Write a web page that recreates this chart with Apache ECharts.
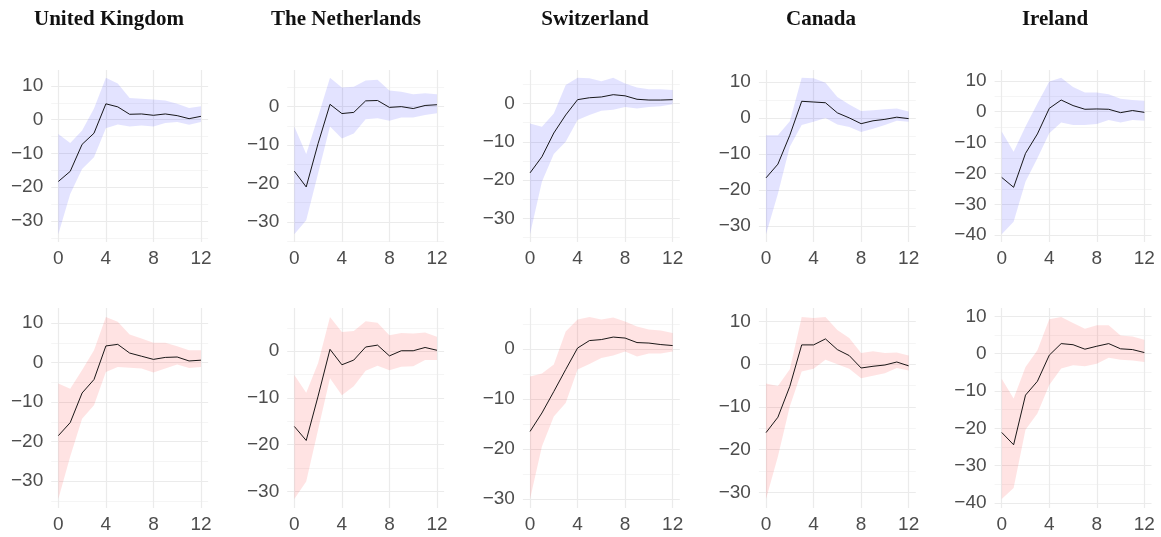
<!DOCTYPE html>
<html><head><meta charset="utf-8">
<script src="https://cdn.jsdelivr.net/npm/echarts@6/dist/echarts.min.js"></script>
<style>html,body{margin:0;padding:0;background:#fff}#c{width:1161px;height:537px}</style>
</head><body><div id="c"></div><script>
const countries = ['United Kingdom', 'The Netherlands', 'Switzerland', 'Canada', 'Ireland'];
const horizon = [0,1,2,3,4,5,6,7,8,9,10,11,12];
const xTicks = [0, 4, 8, 12];

// Top row (blue)
const ukTopMid  = [-18.3,-15.3,-7.3,-4.0,4.7,3.8,1.6,1.7,1.3,1.7,1.2,0.3,1.0];
const ukTopHigh = [-4.2,-6.9,-3.2,3.3,12.4,10.7,6.4,6.2,6.0,5.7,4.7,3.5,4.0];
const ukTopLow  = [-33.9,-22.0,-14.6,-11.1,-2.5,-1.4,-2.0,-1.7,-2.0,-1.0,-0.7,-1.5,-0.7];

const nlTopMid  = [-16.8,-20.9,-9.6,0.6,-1.8,-1.5,1.5,1.6,-0.2,0.0,-0.5,0.3,0.5];
const nlTopHigh = [-5.2,-12.3,-2.6,7.5,5.0,5.2,6.8,7.0,4.2,3.9,3.2,3.5,3.2];
const nlTopLow  = [-33.2,-29.6,-17.4,-5.2,-8.3,-7.0,-3.3,-3.0,-3.7,-2.8,-2.8,-2.2,-1.7];

const chTopMid  = [-18.1,-13.9,-7.7,-3.0,1.0,1.5,1.7,2.3,2.0,1.1,0.9,0.9,1.0];
const chTopHigh = [-5.2,-6.1,-2.6,4.8,6.7,6.6,5.8,6.7,5.2,4.2,3.7,3.7,3.5];
const chTopLow  = [-34.1,-20.4,-13.2,-10.0,-4.3,-3.0,-1.9,-1.6,-0.9,-1.3,-0.9,-0.7,-0.2];

const caTopMid  = [-16.6,-12.8,-4.8,4.6,4.4,4.2,1.4,0.0,-1.6,-0.8,-0.4,0.2,-0.2];
const caTopHigh = [-4.8,-4.8,-0.9,11.1,11.0,9.7,5.8,3.7,1.9,2.1,2.4,2.6,1.8];
const caTopLow  = [-32.2,-21.0,-8.0,-2.0,-1.1,0.0,-1.8,-2.5,-3.9,-3.0,-2.0,-0.8,-1.1];

const ieTopMid  = [-21.3,-24.5,-13.5,-7.2,1.1,3.8,2.0,0.8,0.9,0.8,-0.3,0.4,-0.2];
const ieTopHigh = [-6.4,-13.0,-4.8,2.7,9.8,11.0,8.0,6.2,6.2,5.7,4.2,3.8,3.6];
const ieTopLow  = [-39.7,-35.7,-22.7,-15.1,-7.0,-3.5,-4.3,-4.3,-4.0,-2.7,-3.5,-2.7,-2.9];

// Bottom row (red)
const ukBotMid  = [-18.5,-15.2,-7.7,-4.3,4.2,4.6,2.4,1.6,0.8,1.3,1.4,0.4,0.6];
const ukBotHigh = [-5.3,-6.6,-1.9,3.1,11.5,10.3,7.1,6.1,5.0,5.0,4.1,3.1,3.1];
const ukBotLow  = [-34.5,-23.8,-14.2,-10.8,-2.4,-1.1,-1.3,-1.5,-2.5,-1.5,-0.5,-1.4,-1.1];

const nlBotMid  = [-16.1,-19.1,-9.6,0.4,-2.9,-1.9,0.9,1.3,-1.0,0.1,0.1,0.8,0.2];
const nlBotHigh = [-5.1,-8.9,-2.5,7.3,4.1,4.3,6.4,6.1,3.4,3.9,3.8,4.0,3.1];
const nlBotLow  = [-31.6,-27.9,-16.8,-5.8,-9.4,-7.5,-4.2,-3.1,-4.1,-3.3,-3.2,-1.9,-1.9];

const chBotMid  = [-16.5,-12.8,-8.5,-4.1,0.2,1.7,1.9,2.4,2.2,1.3,1.2,0.9,0.7];
const chBotHigh = [-5.5,-4.9,-3.1,3.5,5.9,6.4,5.9,6.3,5.5,4.5,3.9,3.7,3.2];
const chBotLow  = [-30.0,-19.5,-13.5,-10.8,-4.1,-3.0,-1.8,-1.3,-0.5,-1.5,-0.9,-0.9,-0.5];

const caBotMid  = [-16.0,-12.4,-5.2,4.5,4.5,5.9,3.4,2.0,-0.9,-0.5,-0.2,0.5,-0.4];
const caBotHigh = [-4.5,-5.1,-1.2,11.0,10.8,11.0,8.0,6.1,2.6,3.0,2.6,2.7,2.0];
const caBotLow  = [-31.5,-21.6,-9.9,-1.7,-1.1,1.0,0.0,-1.1,-3.3,-2.7,-2.1,-0.9,-1.5];

const ieBotMid  = [-21.1,-24.4,-11.1,-7.4,-0.4,2.7,2.4,1.2,2.0,2.7,1.3,1.1,0.3];
const ieBotHigh = [-6.7,-12.0,-3.6,0.9,9.2,9.8,8.2,6.7,7.6,7.6,4.9,4.6,3.7];
const ieBotLow  = [-38.9,-36.0,-20.4,-16.0,-8.4,-4.0,-3.1,-3.4,-2.7,-1.1,-1.6,-1.8,-2.2];

const panels = [
  {row:0,col:0,mid:ukTopMid,low:ukTopLow,high:ukTopHigh},
  {row:0,col:1,mid:nlTopMid,low:nlTopLow,high:nlTopHigh},
  {row:0,col:2,mid:chTopMid,low:chTopLow,high:chTopHigh},
  {row:0,col:3,mid:caTopMid,low:caTopLow,high:caTopHigh},
  {row:0,col:4,mid:ieTopMid,low:ieTopLow,high:ieTopHigh},
  {row:1,col:0,mid:ukBotMid,low:ukBotLow,high:ukBotHigh},
  {row:1,col:1,mid:nlBotMid,low:nlBotLow,high:nlBotHigh},
  {row:1,col:2,mid:chBotMid,low:chBotLow,high:chBotHigh},
  {row:1,col:3,mid:caBotMid,low:caBotLow,high:caBotHigh},
  {row:1,col:4,mid:ieBotMid,low:ieBotLow,high:ieBotHigh}
];

const colLeft = [51.2, 287.2, 522.9, 758.9, 994.6];
const colWidth = 156.9;
const rowTop = [70, 308];
const rowHeight = [172, 200];
const bandColor = ['rgba(0,0,255,0.11)', 'rgba(255,0,0,0.11)'];
const titleX = [109, 346, 595, 821, 1055];
const labelFont = {fontFamily: 'Liberation Sans', fontSize: 19, color: '#4D4D4D'};
const fmt = v => (v < 0 ? '\u2212' + Math.abs(v) : String(v));

const grid = [], xAxis = [], yAxis = [], series = [];
panels.forEach((p, i) => {
  grid.push({left: colLeft[p.col], top: rowTop[p.row], width: colWidth, height: rowHeight[p.row]});
  const lo = Math.min(...p.low), hi = Math.max(...p.high);
  const pad = 0.05 * (hi - lo);
  const ymin = lo - pad, ymax = hi + pad;
  const major = [], minor = [];
  for (let v = Math.ceil(ymin / 5) * 5; v <= ymax; v += 5) {
    (Math.abs(v % 10) === 0 ? major : minor).push(v);
  }
  xAxis.push({
    type: 'value', gridIndex: i, min: -0.6, max: 12.6,
    axisLine: {show: false},
    axisTick: {show: false, customValues: xTicks},
    axisLabel: Object.assign({customValues: xTicks, margin: 7, formatter: fmt}, labelFont),
    splitLine: {show: true, lineStyle: {color: '#EBEBEB', width: 1.2}}
  });
  yAxis.push({
    type: 'value', gridIndex: i, min: ymin, max: ymax, position: 'left',
    axisLine: {show: false},
    axisTick: {show: false, customValues: major},
    axisLabel: Object.assign({customValues: major, margin: 8, formatter: fmt}, labelFont),
    splitLine: {show: true, lineStyle: {color: '#EBEBEB', width: 1.2}}
  });
  yAxis.push({
    type: 'value', gridIndex: i, min: ymin, max: ymax, position: 'left',
    axisLine: {show: false},
    axisTick: {show: false, customValues: minor},
    axisLabel: {show: false, customValues: minor},
    splitLine: {show: true, lineStyle: {color: '#F2F2F2', width: 0.8}}
  });
  const fill = bandColor[p.row];
  series.push({
    type: 'custom', xAxisIndex: i, yAxisIndex: 2 * i, silent: true,
    encode: {x: 0, y: [1, 2]},
    data: horizon.map((h, k) => [h, p.low[k], p.high[k]]),
    renderItem: (params, api) => {
      if (params.dataIndexInside !== 0) return null;
      const n = params.dataInsideLength;
      const up = [], dn = [];
      for (let k = 0; k < n; k++) {
        up.push(api.coord([api.value(0, k), api.value(2, k)]));
        dn.push(api.coord([api.value(0, k), api.value(1, k)]));
      }
      return {type: 'polygon', shape: {points: up.concat(dn.reverse())}, style: {fill: fill}};
    }
  });
  series.push({
    type: 'line', xAxisIndex: i, yAxisIndex: 2 * i, silent: true,
    data: horizon.map((h, k) => [h, p.mid[k]]),
    symbol: 'none', lineStyle: {color: '#000', width: 0.9}, z: 5
  });
});

const graphic = countries.map((c, j) => ({
  type: 'text', x: titleX[j], y: 20,
  style: {text: c, font: 'bold 21px "Liberation Serif"', fill: '#111', align: 'center', verticalAlign: 'middle'}
}));

const chart = echarts.init(document.getElementById('c'), null, {renderer: 'canvas'});
chart.setOption({animation: false, backgroundColor: '#fff', grid, xAxis, yAxis, series, graphic});
</script></body></html>
